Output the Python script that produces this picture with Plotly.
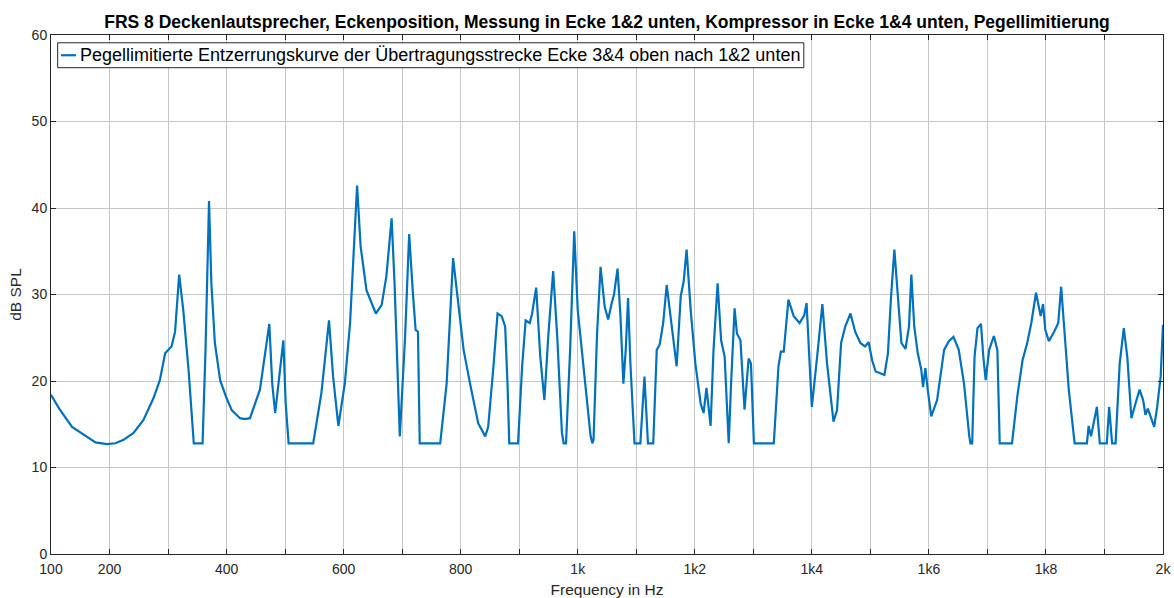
import plotly.graph_objects as go

# Equalisation curve (level-limited), frequency in Hz and level in dB SPL
freq_hz = [
    100, 114, 136, 150, 176, 195, 210, 224, 241, 258, 275, 286, 295, 306, 312, 319, 326, 335, 344, 359,
    364, 370, 374, 380, 389, 400, 409, 423, 431, 440, 457, 473, 478, 483, 497, 501, 506, 548, 562, 575,
    582, 591, 602, 611, 616, 623, 629, 639, 655, 665, 673, 682, 687, 696, 705, 712, 718, 723, 727, 730,
    765, 776, 787, 796, 805, 816, 830, 842, 847, 856, 863, 870, 876, 880, 883, 898, 905, 911, 918, 922,
    929, 936, 943, 950, 958, 965, 973, 976, 980, 987, 994, 1000, 1010, 1022, 1025, 1027, 1033, 1039, 1046, 1052,
    1058, 1062, 1068, 1073, 1078, 1082, 1086, 1090, 1097, 1107, 1114, 1120, 1129, 1135, 1140, 1146, 1152, 1159, 1169, 1176,
    1181, 1186, 1193, 1201, 1210, 1215, 1220, 1227, 1232, 1239, 1245, 1251, 1258, 1262, 1268, 1272, 1278, 1285, 1292, 1296,
    1301, 1335, 1343, 1347, 1352, 1360, 1369, 1379, 1387, 1391, 1400, 1409, 1418, 1426, 1437, 1443, 1450, 1457, 1466, 1474,
    1483, 1491, 1497, 1503, 1509, 1517, 1524, 1530, 1535, 1541, 1547, 1553, 1560, 1566, 1570, 1575, 1581, 1587, 1590, 1594,
    1598, 1604, 1614, 1626, 1634, 1642, 1651, 1660, 1669, 1671, 1674, 1678, 1683, 1689, 1693, 1697, 1703, 1711, 1717, 1721,
    1742, 1751, 1760, 1768, 1775, 1783, 1791, 1795, 1799, 1805, 1814, 1821, 1826, 1832, 1839, 1849, 1870, 1873, 1877, 1887,
    1892, 1904, 1908, 1913, 1919, 1926, 1933, 1939, 1946, 1953, 1960, 1966, 1970, 1974, 1979, 1985, 1990, 1996, 2000,
]
level_db = [
    18.4, 16.8, 14.7, 14.1, 12.9, 12.7, 12.8, 13.2, 14.0, 15.5, 18.0, 20.1, 23.2, 24.0, 25.7, 32.3, 28.2, 21.3, 12.8, 12.8,
    23.6, 40.8, 31.3, 24.4, 20.1, 18.0, 16.6, 15.7, 15.6, 15.7, 19.0, 26.6, 19.7, 16.3, 24.7, 17.4, 12.8, 12.8, 18.6, 27.0,
    20.5, 14.8, 19.7, 26.7, 33.2, 42.6, 35.6, 30.5, 27.8, 28.8, 32.1, 38.8, 31.3, 13.6, 25.1, 37.0, 30.5, 25.9, 25.7, 12.8,
    12.8, 19.7, 34.2, 29.0, 23.6, 19.7, 15.1, 13.6, 14.7, 21.7, 27.8, 27.5, 26.3, 19.7, 12.8, 12.8, 21.7, 27.0, 26.7, 27.8,
    30.8, 22.8, 17.8, 25.5, 32.7, 25.1, 14.0, 12.8, 12.8, 23.6, 37.3, 28.2, 21.7, 13.6, 12.8, 13.2, 25.5, 33.2, 28.6, 27.1,
    29.0, 30.0, 33.0, 27.5, 19.7, 23.6, 29.6, 22.0, 12.8, 12.8, 20.5, 12.8, 12.8, 23.6, 24.2, 26.7, 31.1, 27.5, 21.7, 29.8,
    31.5, 35.2, 28.2, 22.0, 17.4, 16.3, 19.2, 14.8, 23.6, 31.3, 24.7, 22.8, 12.8, 19.7, 28.4, 25.5, 24.7, 16.7, 22.6, 22.0,
    12.8, 12.8, 21.7, 23.4, 23.4, 29.4, 27.5, 26.7, 27.6, 29.0, 17.0, 22.8, 28.9, 22.0, 15.3, 16.6, 24.4, 26.3, 27.8, 25.7,
    24.4, 24.0, 24.5, 22.4, 21.1, 20.9, 20.7, 23.2, 29.4, 35.2, 29.4, 24.4, 23.7, 26.3, 32.3, 26.3, 23.2, 21.3, 19.3, 21.5,
    19.0, 15.9, 17.8, 23.6, 24.6, 25.1, 23.6, 19.7, 13.6, 12.8, 12.8, 22.8, 26.1, 26.6, 22.8, 20.1, 23.6, 25.2, 23.6, 12.8,
    12.8, 18.2, 22.4, 24.4, 26.7, 30.2, 27.5, 28.9, 25.9, 24.6, 25.7, 26.7, 30.9, 25.5, 19.0, 12.8, 12.8, 14.8, 13.6, 17.0,
    12.8, 12.8, 17.0, 12.8, 12.8, 22.0, 26.1, 22.8, 15.7, 17.4, 19.0, 17.8, 16.1, 16.8, 15.9, 14.7, 17.0, 20.5, 26.5,
]

x_tick_vals = list(range(100, 2001, 100))
x_tick_text = ["100", "200", "", "400", "", "600", "", "800", "", "1k",
               "", "1k2", "", "1k4", "", "1k6", "", "1k8", "", "2k"]
y_tick_vals = [0, 10, 20, 30, 40, 50, 60]

title_text = ("FRS 8 Deckenlautsprecher, Eckenposition, Messung in Ecke 1&2 unten, "
              "Kompressor in Ecke 1&4 unten, Pegellimitierung")
series_name = "Pegellimitierte Entzerrungskurve der Übertragungsstrecke Ecke 3&4 oben nach 1&2 unten"

font_family = "Liberation Sans, Arial, sans-serif"
axis_color = "#262626"
grid_color = "#c6c6c6"
line_color = "#0072BD"

fig = go.Figure()
fig.add_trace(go.Scatter(
    x=freq_hz, y=level_db, mode="lines", name=series_name,
    line=dict(color=line_color, width=2.2), showlegend=False,
))

# Legend box in the upper-left corner of the axes (paper coordinates)
legend_x0, legend_x1 = 0.006, 0.677
legend_y0, legend_y1 = 0.937, 0.985
legend_mid = (legend_y0 + legend_y1) / 2
fig.add_shape(type="rect", xref="paper", yref="paper",
              x0=legend_x0, x1=legend_x1, y0=legend_y0, y1=legend_y1,
              fillcolor="white", line=dict(color=axis_color, width=1), layer="above")
fig.add_shape(type="line", xref="paper", yref="paper",
              x0=0.009, x1=0.0225, y0=legend_mid, y1=legend_mid,
              line=dict(color=line_color, width=2.2), layer="above")
fig.add_annotation(xref="paper", yref="paper", x=0.0245, y=legend_mid,
                   xanchor="left", yanchor="middle", showarrow=False,
                   text=series_name, font=dict(size=18, color="black"))

fig.update_layout(
    width=1174, height=598,
    margin=dict(l=51, r=11, t=35, b=44, autoexpand=False),
    paper_bgcolor="white", plot_bgcolor="white",
    font=dict(family=font_family, size=14, color=axis_color),
    title=dict(text="<b>" + title_text + "</b>", xref="paper", x=0.5, xanchor="center",
               yref="container", y=0.964, yanchor="middle",
               font=dict(size=17.5, color="black")),
    showlegend=False,
)

fig.update_xaxes(
    range=[100, 2000], tickmode="array", tickvals=x_tick_vals, ticktext=x_tick_text,
    showgrid=True, gridcolor=grid_color, gridwidth=1,
    ticks="inside", ticklen=5, tickcolor=axis_color,
    showline=True, linecolor=axis_color, linewidth=1, mirror="ticks",
    zeroline=False, automargin=False, ticklabelstandoff=2,
    title=dict(text="Frequency in Hz", standoff=8, font=dict(size=15.5)),
    tickfont=dict(size=14),
)
fig.update_yaxes(
    range=[0, 60], tickmode="array", tickvals=y_tick_vals,
    showgrid=True, gridcolor=grid_color, gridwidth=1,
    ticks="inside", ticklen=5, tickcolor=axis_color,
    showline=True, linecolor=axis_color, linewidth=1, mirror="ticks",
    zeroline=False, automargin=False,
    title=dict(text="dB SPL", standoff=6, font=dict(size=15.5)),
    tickfont=dict(size=14),
)

fig.write_html("out.html")
